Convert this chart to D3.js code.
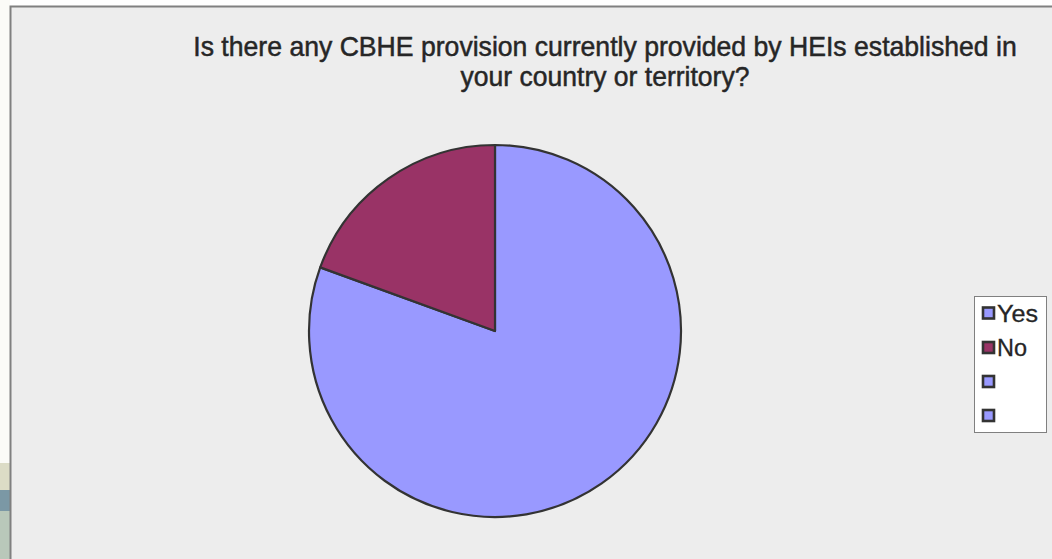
<!DOCTYPE html>
<html>
<head>
<meta charset="utf-8">
<script src="https://cdn.jsdelivr.net/npm/d3@7"></script>
<style>
  html, body { margin: 0; padding: 0; background: #ffffff; }
  svg { display: block; }
</style>
</head>
<body>
<svg id="chart" width="1052" height="559"></svg>
<script>
// Survey answers
const categories = ["Yes", "No"];
const counts = [29, 7];
const legendLabels = ["Yes", "No", "", ""];
const titleLines = [
  "Is there any CBHE provision currently provided by HEIs established in",
  "your country or territory?"
];

const W = 1052, H = 559;
const svg = d3.select("#chart");

// strip of the page behind the chart frame
const strip = [
  { y0: 0, y1: 463, c: "#fbfbf7" },
  { y0: 463, y1: 490, c: "#dcdcc6" },
  { y0: 490, y1: 511, c: "#7b98a5" },
  { y0: 511, y1: 559, c: "#b9c8ba" }
];
svg.selectAll("rect.strip").data(strip).join("rect")
  .attr("class", "strip")
  .attr("x", 0).attr("width", 10)
  .attr("y", d => d.y0).attr("height", d => d.y1 - d.y0)
  .attr("fill", d => d.c);

// chart area
svg.append("rect")
  .attr("x", 10).attr("y", 7)
  .attr("width", W - 10).attr("height", H - 7)
  .attr("fill", "#ededed");
svg.append("path")
  .attr("d", `M10.5,${H} V6.5 H${W}`)
  .attr("fill", "none").attr("stroke", "#808080").attr("stroke-width", 2);

// condensed text: draw at natural width, then squeeze horizontally to a target width
function condensed(sel, x, y, target, anchor) {
  const t = sel.attr("x", 0).attr("y", 0).attr("text-anchor", anchor);
  const w = t.node().getComputedTextLength();
  const k = w > 0 ? target / w : 1;
  t.attr("transform", `translate(${x},${y}) scale(${k},1)`);
}

// title
const titleWidths = [824, 289];
const titleG = svg.append("g")
  .attr("font-family", "'Liberation Sans', Arial, sans-serif")
  .attr("font-size", 28)
  .attr("fill", "#262626")
  .attr("stroke", "#262626")
  .attr("stroke-width", 0.5);
titleLines.forEach((line, i) => {
  condensed(titleG.append("text").text(line), 605, 56 + i * 30, titleWidths[i], "middle");
});

// pie, slices clockwise from 12 o'clock: Yes first, then No
const color = d3.scaleOrdinal().domain(categories).range(["#9999ff", "#993366"]);
const cx = 495, cy = 331, r = 186;
const arc = d3.arc().innerRadius(0).outerRadius(r);
const data = categories.map((k, i) => ({ k, v: counts[i] }));
const pie = d3.pie().sort(null).value(d => d.v);
svg.append("g").attr("transform", `translate(${cx},${cy})`)
  .selectAll("path").data(pie(data)).join("path")
  .attr("d", arc)
  .attr("fill", d => color(d.data.k))
  .attr("stroke", "#333333")
  .attr("stroke-width", 2.2)
  .attr("stroke-linejoin", "round");

// legend
const lg = svg.append("g");
lg.append("rect")
  .attr("x", 974.5).attr("y", 296.5)
  .attr("width", 72).attr("height", 136)
  .attr("fill", "#ffffff").attr("stroke", "#808080").attr("stroke-width", 1);
const rowY = [313, 347.5, 381.5, 415.5];
const legendColors = ["#9999ff", "#993366", "#9999ff", "#9999ff"];
const legendWidths = [41, 30, 0, 0];
legendLabels.forEach((label, i) => {
  lg.append("rect")
    .attr("x", 983).attr("y", rowY[i] - 5.5)
    .attr("width", 11).attr("height", 11)
    .attr("fill", legendColors[i])
    .attr("stroke", "#333333").attr("stroke-width", 2.6);
  if (label) {
    const t = lg.append("text")
      .attr("font-family", "'Liberation Sans', Arial, sans-serif")
      .attr("font-size", 24)
      .attr("fill", "#262626")
      .attr("stroke", "#262626")
      .attr("stroke-width", 0.3)
      .text(label);
    condensed(t, 997, rowY[i] + 8.5, legendWidths[i], "start");
  }
});
</script>
</body>
</html>
